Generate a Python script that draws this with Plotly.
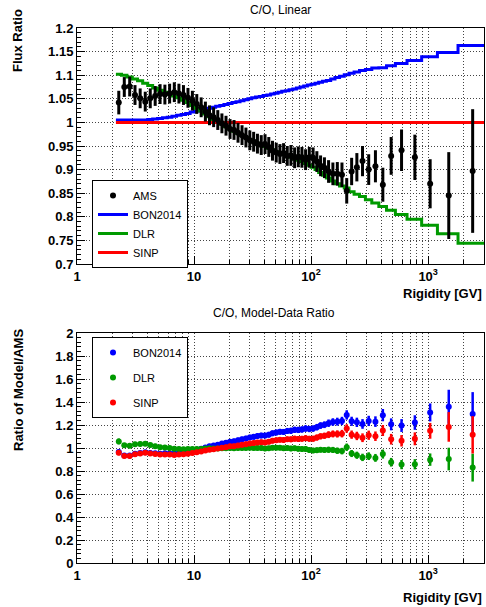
import numpy as np
import plotly.graph_objects as go
from plotly.subplots import make_subplots

# Rigidity bin edges [GV]
edges = [2.15, 2.40, 2.67, 2.97, 3.29, 3.64, 4.02, 4.43, 4.88, 5.37, 5.90, 6.47, 7.09, 7.76,
         8.48, 9.26, 10.1, 11.0, 12.0, 13.0, 14.1, 15.3, 16.6, 18.0, 19.5, 21.1, 22.8, 24.7,
         26.7, 28.8, 31.1, 33.5, 36.1, 38.9, 41.9, 45.1, 48.5, 52.2, 56.1, 60.3, 64.8, 69.7,
         74.9, 80.5, 86.5, 93.0, 100, 108, 116, 125, 135, 147, 160, 175, 192, 211, 233, 259,
         291, 330, 379, 441, 525, 660, 880, 1200, 1800, 3000]

# AMS C/O ratio (normalised) and errors
ams = [1.042, 1.075, 1.076, 1.058, 1.051, 1.044, 1.051, 1.056, 1.060, 1.059, 1.061, 1.064,
       1.061, 1.058, 1.052, 1.046, 1.039, 1.032, 1.023, 1.015, 1.011, 1.005, 0.998, 0.993,
       0.986, 0.984, 0.978, 0.973, 0.968, 0.962, 0.959, 0.955, 0.952, 0.954, 0.948, 0.940,
       0.936, 0.933, 0.935, 0.929, 0.930, 0.925, 0.927, 0.926, 0.921, 0.926, 0.925, 0.917,
       0.908, 0.904, 0.896, 0.891, 0.891, 0.889, 0.855, 0.896, 0.905, 0.918, 0.900, 0.907,
       0.868, 0.929, 0.941, 0.926, 0.870, 0.845, 0.897]
ams_err = [0.025, 0.021, 0.021, 0.021, 0.021, 0.021, 0.021, 0.021, 0.021, 0.021, 0.021, 0.021,
           0.021, 0.021, 0.021, 0.021, 0.021, 0.021, 0.021, 0.021, 0.021, 0.021, 0.021, 0.021,
           0.021, 0.021, 0.021, 0.021, 0.021, 0.021, 0.021, 0.021, 0.021, 0.021, 0.021, 0.021,
           0.021, 0.021, 0.021, 0.021, 0.022, 0.022, 0.022, 0.022, 0.022, 0.022, 0.022, 0.022,
           0.022, 0.022, 0.024, 0.024, 0.025, 0.026, 0.027, 0.029, 0.030, 0.032, 0.0325, 0.034,
           0.036, 0.040, 0.044, 0.048, 0.052, 0.092, 0.131]

# Model predictions per bin
bon2014 = [1.005, 1.005, 1.005, 1.005, 1.005, 1.005, 1.006, 1.007, 1.008, 1.010, 1.011, 1.013,
           1.015, 1.017, 1.019, 1.022, 1.024, 1.026, 1.028, 1.030, 1.032, 1.034, 1.036, 1.038,
           1.040, 1.042, 1.044, 1.046, 1.048, 1.050, 1.052, 1.054, 1.055, 1.057, 1.058, 1.060,
           1.062, 1.064, 1.066, 1.067, 1.069, 1.071, 1.073, 1.075, 1.077, 1.079, 1.081, 1.083,
           1.085, 1.087, 1.089, 1.092, 1.095, 1.098, 1.101, 1.104, 1.107, 1.110, 1.112, 1.115,
           1.116, 1.120, 1.125, 1.131, 1.139, 1.148, 1.163]
dlr = [1.102, 1.100, 1.096, 1.092, 1.088, 1.083, 1.078, 1.073, 1.068, 1.064, 1.060, 1.056,
       1.052, 1.047, 1.042, 1.036, 1.030, 1.024, 1.018, 1.012, 1.006, 1.001, 0.996, 0.991,
       0.986, 0.981, 0.977, 0.972, 0.968, 0.964, 0.960, 0.956, 0.952, 0.949, 0.945, 0.942,
       0.938, 0.935, 0.932, 0.929, 0.926, 0.923, 0.920, 0.917, 0.913, 0.909, 0.905, 0.900,
       0.894, 0.888, 0.882, 0.876, 0.870, 0.865, 0.861, 0.853, 0.848, 0.843, 0.836, 0.829,
       0.822, 0.814, 0.805, 0.795, 0.782, 0.764, 0.744]
sinp = [1.0] * 67

x_ticks = [1, 10, 100, 1000]
x_ticktext = ["1", "10", "10<sup>2</sup>", "10<sup>3</sup>"]
x_minor = [2, 3, 4, 5, 6, 7, 8, 9, 20, 30, 40, 50, 60, 70, 80, 90,
           200, 300, 400, 500, 600, 700, 800, 900, 2000, 3000]
y1_ticks = [0.7, 0.75, 0.8, 0.85, 0.9, 0.95, 1.0, 1.05, 1.1, 1.15, 1.2]
y1_text = ["0.7", "0.75", "0.8", "0.85", "0.9", "0.95", "1", "1.05", "1.1", "1.15", "1.2"]
y2_ticks = [0, 0.2, 0.4, 0.6, 0.8, 1.0, 1.2, 1.4, 1.6, 1.8, 2.0]
y2_text = ["0", "0.2", "0.4", "0.6", "0.8", "1", "1.2", "1.4", "1.6", "1.8", "2"]

BLUE = "#0000ff"
GREEN = "#009a00"
RED = "#ff0000"
FONT = "Liberation Sans, Arial, Helvetica, sans-serif"

e = np.array(edges)
centers = 0.5 * (e[:-1] + e[1:])
a = np.array(ams)
ae = np.array(ams_err)

fig = make_subplots(rows=2, cols=1)

def step_y(vals):
    return list(vals) + [vals[-1]]

# Top panel: model curves
for name, vals, col in [("BON2014", bon2014, BLUE), ("DLR", dlr, GREEN), ("SINP", sinp, RED)]:
    fig.add_trace(go.Scatter(x=edges, y=step_y(vals), mode="lines", line=dict(color=col, width=3, shape="hv"),
                             name=name, legend="legend", legendgroup=name), row=1, col=1)
fig.add_trace(go.Scatter(x=centers, y=ams, mode="markers", name="AMS", legendrank=1, legendgroup="AMS",
                         marker=dict(color="black", size=6),
                         error_y=dict(type="data", array=ams_err, thickness=3, width=0, color="black"),
                         legend="legend"), row=1, col=1)

# Bottom panel: model / data ratios
for name, vals, col in [("BON2014", bon2014, BLUE), ("DLR", dlr, GREEN), ("SINP", sinp, RED)]:
    m = np.array(vals)
    r = m / a
    re = m * ae / a**2
    fig.add_trace(go.Scatter(x=centers, y=r, mode="markers", name=name, legend="legend2", legendgroup=name + "2",
                             marker=dict(color=col, size=6),
                             error_y=dict(type="data", array=re, thickness=2.5, width=0, color=col)),
                  row=2, col=1)

W, H = 486, 607
def px_x(p):
    return p / W
def px_y(p):
    return 1 - p / H

xdom = [px_x(77), px_x(484)]
fig.update_layout(
    width=W, height=H, autosize=False, margin=dict(l=0, r=0, t=0, b=0, pad=0),
    paper_bgcolor="white", plot_bgcolor="white",
    font=dict(family=FONT, color="black"),
    xaxis=dict(domain=xdom), xaxis2=dict(domain=xdom),
    yaxis=dict(domain=[px_y(264), px_y(28)]),
    yaxis2=dict(domain=[px_y(563), px_y(333)]),
    legend=dict(x=px_x(92), y=px_y(180), xanchor="left", yanchor="top", bgcolor="white",
                bordercolor="black", borderwidth=1, font=dict(size=11, family=FONT),
                tracegroupgap=0, traceorder="normal", itemwidth=30),
    legend2=dict(x=px_x(92), y=px_y(337), xanchor="left", yanchor="top", bgcolor="white",
                 bordercolor="black", borderwidth=1, font=dict(size=11, family=FONT),
                 tracegroupgap=6, traceorder="grouped", itemwidth=30),
)

grid = dict(showgrid=True, gridcolor="#444", gridwidth=1, griddash="1px,2px")
for i in (1, 2):
    fig.update_xaxes(type="log", range=[0, np.log10(3000)], tickmode="array", tickvals=x_ticks,
                     ticktext=x_ticktext, ticks="inside", ticklen=8, tickcolor="black",
                     showline=True, mirror=True, linecolor="black", linewidth=1, automargin=False,
                     tickfont=dict(size=13, family=FONT, weight="bold"), zeroline=False,
                     minor=dict(tickmode="array", tickvals=x_minor, ticks="inside", ticklen=4,
                                tickcolor="black", **grid),
                     **grid, row=i, col=1)

fig.update_yaxes(range=[0.7, 1.2], tickmode="array", tickvals=y1_ticks, ticktext=y1_text,
                 minor=dict(dtick=0.01, ticks="inside", ticklen=4, tickcolor="black", showgrid=False),
                 row=1, col=1)
fig.update_yaxes(range=[0, 2], tickmode="array", tickvals=y2_ticks, ticktext=y2_text,
                 minor=dict(dtick=0.04, ticks="inside", ticklen=4, tickcolor="black", showgrid=False),
                 row=2, col=1)
fig.update_yaxes(ticks="inside", ticklen=8, tickcolor="black", showline=True, mirror=True,
                 linecolor="black", linewidth=1, zeroline=False, automargin=False,
                 tickfont=dict(size=13, family=FONT, weight="bold"), **grid)

ann = [
    dict(text="C/O, Linear", x=px_x(280), y=px_y(10), font=dict(size=12)),
    dict(text="C/O, Model-Data Ratio", x=px_x(274), y=px_y(313), font=dict(size=12)),
    dict(text="Flux Ratio", x=px_x(18), y=px_y(41), textangle=-90, font=dict(size=13, weight="bold")),
    dict(text="Ratio of Model/AMS", x=px_x(18), y=px_y(390), textangle=-90, font=dict(size=13, weight="bold")),
    dict(text="Rigidity [GV]", x=px_x(484), y=px_y(293), xanchor="right", font=dict(size=13, weight="bold")),
    dict(text="Rigidity [GV]", x=px_x(484), y=px_y(597), xanchor="right", font=dict(size=13, weight="bold")),
]
for an in ann:
    an.setdefault("xanchor", "center")
    fig.add_annotation(xref="paper", yref="paper", showarrow=False, yanchor="middle",
                       font_family=FONT, **an)

reset_js = (
    "var h=document.documentElement, b=document.body;"
    "[h,b].forEach(function(el){el.style.margin='0px';el.style.padding='0px';"
    "el.style.overflow='hidden';el.style.height='607px';el.style.width='486px';});"
)
fig.write_html("out.html", config={"responsive": False, "displayModeBar": False},
               post_script=reset_js)
